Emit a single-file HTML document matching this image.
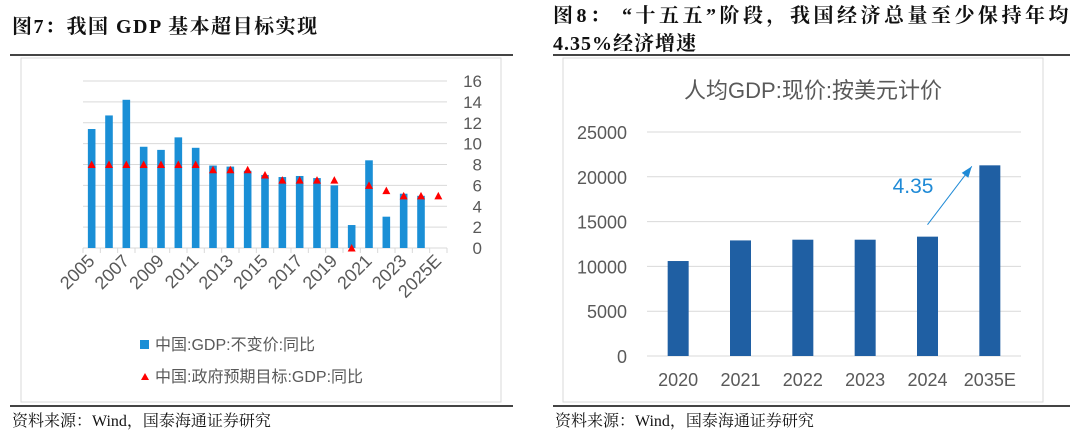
<!DOCTYPE html>
<html><head><meta charset="utf-8"><style>
body{margin:0;width:1080px;height:430px;background:#fff;overflow:hidden;position:relative;font-family:"Liberation Serif","Noto Serif CJK SC",serif}
.t{position:absolute;font-weight:bold;font-size:20px;color:#111;white-space:nowrap}
.src{position:absolute;font-size:16px;color:#111;white-space:nowrap}
.hl{position:absolute;height:1.5px;background:#444}
svg{position:absolute;left:0;top:0}
</style></head><body>
<div class="t" style="left:12px;top:10px;letter-spacing:1.5px">图7：我国 GDP 基本超目标实现</div>
<div class="t" style="left:553px;top:2px;line-height:28px;letter-spacing:3.5px">图8：&nbsp;“十五五”阶段，我国经济总量至少保持年均<br><span style="letter-spacing:1px">4.35%经济增速</span></div>
<div class="hl" style="left:10px;top:54px;width:503px"></div>
<div class="hl" style="left:553px;top:54px;width:517px"></div>
<div class="hl" style="left:10px;top:405px;width:503px"></div>
<div class="hl" style="left:553px;top:405px;width:517px"></div>
<div class="src" style="left:12px;top:408px">资料来源：Wind，国泰海通证券研究</div>
<div class="src" style="left:555px;top:408px">资料来源：Wind，国泰海通证券研究</div>
<svg id="s" width="1080" height="430"></svg>
<script>
const catsL=["2005","2006","2007","2008","2009","2010","2011","2012","2013","2014","2015","2016","2017","2018","2019","2020","2021","2022","2023","2024","2025E"];
const gdpL=[11.4,12.7,14.2,9.7,9.4,10.6,9.6,7.9,7.8,7.4,7.0,6.8,6.9,6.7,6.0,2.2,8.4,3.0,5.2,5.0,null];
const tgtL=[8,8,8,8,8,8,8,7.5,7.5,7.5,7,6.5,6.5,6.5,6.5,0,6,5.5,5,5,5];
const ticksL=[0,2,4,6,8,10,12,14,16];
const catsR=["2020","2021","2022","2023","2024","2035E"];
const valsR=[10600,12900,12980,12980,13320,21280];
const ticksR=[0,5000,10000,15000,20000,25000];
const growthLabel="4.35";
const s=document.getElementById('s');const NS="http://www.w3.org/2000/svg";
function el(t,a,txt){const e=document.createElementNS(NS,t);for(const k in a)e.setAttribute(k,a[k]);if(txt!=null)e.textContent=txt;s.appendChild(e);return e;}
const SANS='"Liberation Sans","Noto Sans CJK SC",sans-serif';
let f=el('rect',{x:21,y:58,width:480,height:344,fill:'none',stroke:'#d9d9d9'});

f=el('rect',{x:563,y:58,width:480,height:344,fill:'none',stroke:'#d9d9d9'});

const L={x0:83,x1:447,y0:248,y1:81,max:16};
const yL=v=>L.y0-(v/L.max)*(L.y0-L.y1);
const bw=(L.x1-L.x0)/catsL.length;
const xL=i=>L.x0+bw*(i+0.5);
ticksL.forEach(t=>{let g=el('line',{x1:L.x0,x2:L.x1,y1:yL(t),y2:yL(t),stroke:'#d9d9d9','stroke-width':1});

let tx=el('text',{x:482,y:yL(t)+6,'text-anchor':'end','font-size':17,fill:'#595959','font-family':SANS},t);
});
for(let i=0;i<=catsL.length;i++){let k=el('line',{x1:L.x0+bw*i,x2:L.x0+bw*i,y1:L.y0,y2:L.y0+5,stroke:'#d9d9d9'});}
gdpL.forEach((v,i)=>{if(v==null)return;let r=el('rect',{x:xL(i)-3.8,y:yL(v),width:7.6,height:L.y0-yL(v),fill:'#1a8fd6'});
});
tgtL.forEach((v,i)=>{if(v==null)return;const x=xL(i),y=yL(v);let p=el('polygon',{points:`${x-4},${y+3.5} ${x+4},${y+3.5} ${x},${y-4}`,fill:'#ff0000'});
});
catsL.forEach((c,i)=>{if(i%2)return;const x=xL(i)+4,y=L.y0+14;let t=el('text',{x:x,y:y,'text-anchor':'end','font-size':18,fill:'#595959','font-family':SANS,transform:`rotate(-45 ${x} ${y})`},c);
});
let lg=el('rect',{x:140,y:340,width:9,height:9,fill:'#1a8fd6'});
let lt=el('text',{x:155,y:350,'font-size':16,fill:'#595959','font-family':SANS},'中国:GDP:不变价:同比');
lg=el('polygon',{points:'141,380 149,380 145,373',fill:'#ff0000'});
lt=el('text',{x:155,y:382,'font-size':16,fill:'#595959','font-family':SANS},'中国:政府预期目标:GDP:同比');
const R={x0:647,x1:1021,y0:356,y1:132,max:25000};
const yR=v=>R.y0-(v/R.max)*(R.y0-R.y1);
const bwR=(R.x1-R.x0)/catsR.length;
const xR=i=>R.x0+bwR*(i+0.5);
let ti=el('text',{x:813,y:98,'text-anchor':'middle','font-size':22,fill:'#595959','font-family':SANS},'人均GDP:现价:按美元计价');

ticksR.forEach(t=>{let g=el('line',{x1:R.x0,x2:R.x1,y1:yR(t),y2:yR(t),stroke:'#d9d9d9','stroke-width':1});

let tx=el('text',{x:627,y:yR(t)+7,'text-anchor':'end','font-size':18,fill:'#595959','font-family':SANS},t);
});
valsR.forEach((v,i)=>{let r=el('rect',{x:xR(i)-10.5,y:yR(v),width:21,height:R.y0-yR(v),fill:'#1f5fa3'});
});
catsR.forEach((c,i)=>{let t=el('text',{x:xR(i),y:386,'text-anchor':'middle','font-size':18,fill:'#595959','font-family':SANS},c);
});
const ax1=xR(4),ay1=yR(valsR[4])-12,ax2=xR(5)-18,ay2=yR(valsR[5])+1;
let ar=el('line',{x1:ax1,y1:ay1,x2:ax2,y2:ay2,stroke:'#1f8ad6','stroke-width':1});
const ang=Math.atan2(ay2-ay1,ax2-ax1);const hx=ax2,hy=ay2;
let ah=el('polygon',{points:`${hx},${hy} ${hx-12*Math.cos(ang-0.35)},${hy-12*Math.sin(ang-0.35)} ${hx-12*Math.cos(ang+0.35)},${hy-12*Math.sin(ang+0.35)}`,fill:'#1f8ad6'});

let gl=el('text',{x:913,y:193,'text-anchor':'middle','font-size':21,fill:'#1f8ad6','font-family':SANS},growthLabel);

</script>
</body></html>
